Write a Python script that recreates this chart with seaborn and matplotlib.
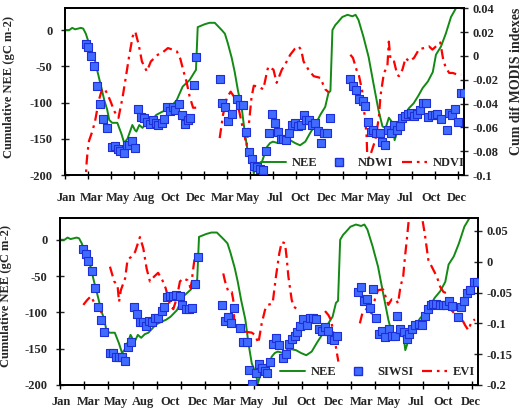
import numpy as np
import pandas as pd
import matplotlib
matplotlib.use("Agg")
import matplotlib.pyplot as plt
from matplotlib.lines import Line2D
from matplotlib.ticker import FixedLocator, FuncFormatter
import seaborn as sns

# ---------------- data (x = 8-day composite index over three years) ----------------
month_labels = ["Jan", "Mar", "May", "Aug", "Oct", "Dec", "Mar", "May", "Jul",
                "Oct", "Dec", "Mar", "May", "Jul", "Oct", "Dec"]

nee_x = [0, 1.5, 2.5, 3.5, 4.5, 5.5, 6.3, 7.2, 8.1, 9.0, 10.1, 11.1, 12.5, 13.6, 14.6,
         15.3, 16.3, 18.1, 19.5, 20.5, 21.6, 22.5, 23.3, 24.2, 24.7, 25.7, 26.8, 28.0,
         29.2, 31.6, 33.5, 35.1, 36.5, 38.6, 40.7, 43.1, 44.8, 45.3, 45.9, 48.3, 50.0,
         51.8, 54.2, 55.3, 56.3, 57.7, 58.7, 59.8, 61.2, 62.2, 63.3, 64.6, 65.3, 66.0,
         66.7, 68.1, 69.9, 70.9, 71.9, 73.7, 75.4, 77.9, 79.6, 81.3, 83.1, 84.8, 86.5,
         88.3, 90.0, 91.1, 91.8, 92.5, 93.5, 94.2, 95.9, 97.7, 99.4, 100.5, 101.5,
         103.2, 105.0, 106.7, 108.4, 109.8, 110.9, 112.0, 113.3, 114.0, 115.4, 117.1,
         118.9, 120.6, 122.3, 123.7, 125.5, 127.2, 128.3, 130.0, 131.7, 133.5, 135.2, 138.0]
nee_y = [0, 0, 3, 1, 2, 3, 2, -5, -16, -28, -37, -55, -78, -97, -110,
         -124, -128, -128, -143, -156, -150, -140, -131, -138, -140, -131, -135, -130,
         -128, -117, -113, -110, -106, -97, -78, -69, -58, -55, 4, 8, 10,
         10, 0, -5, -18, -39, -58, -83, -110, -142, -170, -184, -198, -188,
         -184, -182, -161, -156, -154, -156, -150, -152, -156, -159, -154, -142, -131,
         -117, -106, -87, -84, 0, 7, 10, 18, 21, 19, 21, 14,
         -9, -37, -74, -110, -133, -135, -121, -128, -152, -134, -120,
         -108, -101, -90, -80, -71, -58, -34, -23, -5, 18, 30, 55]

ndwi_x = [7.4, 8.1, 9.1, 10.2, 11.2, 12.2, 13.1, 14.4, 16.4, 17.4, 18.2, 19.1, 20.3,
          21.3, 22.3, 23.2, 24.3, 25.4, 26.3, 27.4, 28.3, 29.3, 30.3, 31.5, 32.3, 33.4,
          34.4, 35.2, 36.4, 37.3, 38.2, 39.3, 40.4, 41.5, 42.4, 43.4, 44.5, 45.4,
          53.5, 54.3, 55.5, 56.4, 57.6, 59.5, 60.5, 61.4, 62.5, 63.5, 64.7, 65.5, 66.4,
          67.5, 68.6, 69.4, 70.6, 71.7, 72.6, 73.6, 74.6, 75.5, 76.6, 77.5, 78.4, 79.6,
          80.5, 81.7, 82.6, 83.4, 84.5, 85.4, 86.5, 87.5, 88.5, 89.6, 90.6, 91.8,
          98.7, 99.6, 100.7, 101.8, 102.9, 103.8, 104.7, 105.7, 106.6, 107.7, 108.8,
          109.7, 110.8, 111.7, 112.6, 113.8, 114.7, 115.9, 116.7, 117.7, 118.6, 119.8,
          120.7, 121.9, 122.8, 123.7, 124.9, 125.7, 126.8, 127.9, 128.8, 130.0, 132.0,
          132.9, 133.9, 134.9, 135.9, 137.0, 138.0]
ndwi_y = [0.0102, 0.0074, 0.0, -0.0088, -0.0249, -0.0407, -0.0527, -0.0608, -0.0764,
          -0.0755, -0.0783, -0.0797, -0.0816, -0.0750, -0.0750, -0.0713, -0.0777, -0.0443,
          -0.0510, -0.0521, -0.0555, -0.0574, -0.0538, -0.0566, -0.0583, -0.0566, -0.0532,
          -0.0426, -0.0463, -0.0426, -0.0455, -0.0401, -0.0493, -0.0574, -0.0538, -0.0518,
          -0.0243, -0.0010,
          -0.0190, -0.0399, -0.0426, -0.0549, -0.0488, -0.0360, -0.0416, -0.0416, -0.0638,
          -0.0805, -0.0866, -0.0922, -0.0936, -0.0950, -0.0956, -0.0797, -0.0649, -0.0491,
          -0.0566, -0.0638, -0.0694, -0.0694, -0.0705, -0.0649, -0.0583, -0.0566, -0.0588,
          -0.0583, -0.0493, -0.0538, -0.0538, -0.0583, -0.0566, -0.0630, -0.0733, -0.0644,
          -0.0644, -0.0524,
          -0.0190, -0.0254, -0.0282, -0.0360, -0.0380, -0.0421, -0.0555, -0.0638, -0.0622,
          -0.0649, -0.0649, -0.0722, -0.0749, -0.0622, -0.0644, -0.0583, -0.0622, -0.0588,
          -0.0524, -0.0505, -0.0485, -0.0483, -0.0505, -0.0491, -0.0455, -0.0399, -0.0399,
          -0.0510, -0.0499, -0.0499, -0.0485, -0.0527, -0.0624, -0.0477, -0.0499, -0.0443,
          -0.0555, -0.0310, -0.0310]

ndvi_x = [7.0, 7.5, 7.8, 8.3, 9.5, 10.4, 11.8, 12.8, 13.5, 14.7, 15.9, 17.0, 18.5, 19.9,
          21.1, 22.2, 23.4, 24.3, 25.5, 26.6, 28.3, 29.7, 32.1, 33.8, 35.6, 37.3, 38.7,
          39.9, 41.0, 42.0, 43.1, 44.3, 45.4, np.nan,
          53.5, 54.7, 56.0, 57.3, 59.5, 61.0, 62.8, 63.5, 64.5, 65.3, 67.0, 68.6, 69.8,
          70.3, 72.1, 73.2, 75.0, 76.1, 77.9, 79.5, 80.8, 81.7, 82.5, 84.2, 86.0, 88.3,
          90.0, 91.2, np.nan,
          98.7, 99.6, 101.0, 101.6, 102.8, 103.4, 103.9, 104.3, 104.5, 105.2, 105.7, 107.4,
          108.6, 109.1, 110.3, 111.5, 112.0, 112.6, 113.8, 114.9, 115.5, 116.7, 117.8,
          119.0, 120.7, 122.5, 124.2, 125.9, 127.1, 128.3, 129.8, 130.8, 131.7, 132.9,
          134.1, 135.8, 137.0]
ndvi_y = [-0.11, -0.089, -0.081, -0.0714, -0.063, -0.0547, -0.0365, -0.028, -0.027,
          -0.032, -0.039, -0.0463, -0.052, -0.035, -0.017, 0.0, 0.0163, 0.0205, 0.0094,
          -0.0046, -0.013, -0.0046, 0.001, 0.003, 0.0066, 0.0052, 0.0038, -0.0025, -0.013,
          -0.0213, -0.034, -0.0435, -0.0435, np.nan,
          -0.069, -0.049, -0.035, -0.030, -0.038, -0.055, -0.075, -0.060, -0.035, -0.025,
          -0.026, -0.028, -0.014, -0.009, -0.0115, -0.0226, -0.0115, -0.0073, 0.001, 0.006,
          0.008, 0.005, -0.0046, -0.0115, -0.017, -0.0184, -0.028, -0.0305, np.nan,
          0.001, -0.0017, -0.013, -0.0157, -0.0296, -0.045, -0.056, -0.067, -0.081, -0.086,
          -0.0826, -0.070, -0.0505, -0.0338, -0.0143, -0.0088, 0.012, -0.0032, -0.0046,
          -0.0157, -0.017, -0.0115, -0.0017, -0.0046, -0.0017, 0.0058, 0.0066, 0.008,
          0.0053, 0.008, 0.0113, -0.003, -0.010, -0.0143, -0.0143, -0.0157, -0.0157]

siwsi_x = [7.5, 8.5, 9.3, 10.5, 11.4, 12.4, 13.4, 14.4, 16.5, 17.6, 18.5, 19.6, 20.6,
           21.6, 22.5, 23.4, 24.4, 25.3, 26.4, 27.5, 28.4, 29.5, 30.5, 31.4, 32.4, 33.6,
           34.4, 35.4, 36.4, 37.4, 38.4, 39.5, 40.4, 41.5, 42.5, 43.5, 44.5, 45.5,
           53.4, 54.5, 55.5, 56.4, 57.4, 59.5, 60.4, 61.6, 62.5, 63.5, 64.6, 65.6, 66.6,
           67.6, 68.5, 69.3, 70.4, 71.3, 72.4, 73.5, 74.5, 75.6, 76.5, 77.5, 78.3, 79.4,
           80.3, 81.4, 82.5, 83.4, 84.4, 85.5, 86.5, 87.5, 88.4, 89.5, 90.3, 91.3,
           98.5, 99.4, 100.4, 101.4, 102.3, 103.3, 104.3, 105.3, 106.4, 107.4, 108.5,
           109.5, 110.5, 111.4, 112.4, 113.5, 114.5, 115.3, 116.3, 117.3, 118.4, 119.4,
           120.4, 121.4, 122.4, 123.3, 124.3, 125.3, 126.3, 127.3, 128.3, 129.4, 131.5,
           132.5, 133.5, 134.5, 135.5, 136.6, 137.7]
siwsi_y = [0.0206, 0.012, 0.001, -0.015, -0.042, -0.073, -0.0946, -0.114, -0.1486,
           -0.1486, -0.155, -0.154, -0.154, -0.1606, -0.139, -0.131, -0.074, -0.085,
           -0.098, -0.098, -0.104, -0.0957, -0.098, -0.0908, -0.092, -0.0795, -0.073,
           -0.0578, -0.0556, -0.0551, -0.054, -0.0556, -0.0702, -0.0773, -0.0773, -0.0746,
           -0.036, 0.008,
           -0.0702, -0.0957, -0.090, -0.099, -0.0756, -0.108, -0.1308, -0.1308, -0.1757,
           -0.1984, -0.181, -0.166, -0.172, -0.177, -0.180, -0.162, -0.1335, -0.124,
           -0.135, -0.1557, -0.150, -0.134, -0.1254, -0.1205, -0.1146, -0.1043, -0.0935,
           -0.1027, -0.0908, -0.0908, -0.093, -0.109, -0.112, -0.1065, -0.112, -0.1254,
           -0.127, -0.1205,
           -0.0486, -0.0416, -0.0632, -0.061, -0.0756, -0.0448, -0.0908, -0.117, -0.112,
           -0.1216, -0.1097, -0.1205, -0.1205, -0.0876, -0.109, -0.1146, -0.126, -0.117,
           -0.1087, -0.1027, -0.101, -0.1027, -0.088, -0.0773, -0.0702, -0.0686, -0.0686,
           -0.0702, -0.0702, -0.0702, -0.0632, -0.0719, -0.0892, -0.073, -0.0638, -0.0513,
           -0.046, -0.0324, -0.0324]

evi_x = [7.7, 9.0, 10.2, 11.5, 12.9, 13.8, np.nan,
         16.5, 17.9, 19.0, 19.5, 20.1, 21.5, 22.3, 23.5, 24.8, 26.4, 27.5, 28.6, 29.7,
         31.1, 32.4, 33.8, 34.9, 36.3, 37.4, 38.5, 39.6, 40.7, 42.1, 43.2, 44.0, 44.5, np.nan,
         53.9, 54.5, 55.6, 56.7, 57.2, 57.6, np.nan,
         61.0, 63.3, 64.4, 65.5, 66.6, 67.7, 68.7, 70.2, 71.3, 72.4, 73.2, 74.3, 74.8,
         75.4, 76.5, 77.2, 78.6, np.nan,
         87.5, 88.6, 89.5, 90.8, 91.9, np.nan,
         99.0, 99.8, 101.5, 102.9, 104.0, 105.0, 106.7, 108.4, 109.5, 111.1, 111.6, 112.4,
         113.3, 113.9, 114.6, 115.3, 117.0, 119.4, 120.5, 121.6, 123.3, 124.4, 125.5,
         126.6, 127.7, 128.6, 130.5, 132.3, 133.7, 134.8, 135.9, 137.0]
evi_y = [-0.070, -0.062, -0.056, -0.068, -0.076, -0.083, np.nan,
         -0.008, -0.032, -0.038, -0.065, -0.046, -0.027, 0.003, 0.008, 0.016, 0.040,
         0.022, -0.011, -0.032, -0.024, -0.018, -0.030, -0.043, -0.070, -0.077, -0.060,
         -0.032, -0.027, -0.030, -0.043, -0.011, 0.008, np.nan,
         -0.019, -0.032, -0.049, -0.049, -0.062, -0.103, np.nan,
         -0.1135, -0.115, -0.119, -0.132, -0.100, -0.078, -0.070, -0.0675, -0.024, 0.0136,
         0.032, 0.030, 0.008, -0.024, -0.062, -0.073, -0.078, np.nan,
         -0.080, -0.0865, -0.095, -0.130, -0.162, np.nan,
         -0.100, -0.084, -0.075, -0.084, -0.060, -0.046, -0.045, -0.070, -0.061, -0.063,
         -0.0675, -0.0405, -0.024, 0.008, 0.0405, 0.076, 0.110, 0.076, 0.043, 0.003,
         -0.0135, -0.024, -0.0405, -0.049, -0.0513, -0.0756, -0.085, -0.089, -0.1027,
         -0.111, -0.097, -0.0935]

# ---------------- styling ----------------
sns.set_theme(style="white")
plt.rcParams["font.family"] = ["Liberation Serif", "DejaVu Serif"]
plt.rcParams["font.weight"] = "bold"
plt.rcParams["axes.unicode_minus"] = False

GREEN = "#138A13"
RED = "#FF0000"
BFACE = "#3F6BFF"
BEDGE = "#1E2FD8"
FS = 9
RED_LS = (0, (4.5, 2.2, 1.2, 2.2))


def segments(xs, ys):
    seg, out = 0, []
    for x, y in zip(xs, ys):
        if np.isnan(x):
            seg += 1
            continue
        out.append((x, y, seg))
    return pd.DataFrame(out, columns=["x", "y", "seg"])


def style_axes(ax, ax2, rlim, rticks, label_pos, xpad):
    ax.set_xlim(0, 138)
    ax.set_ylim(-200, 30)
    ax2.set_ylim(*rlim)
    ax.set_yticks([0, -50, -100, -150, -200])
    ax2.set_yticks(rticks)
    ax2.yaxis.set_major_formatter(FuncFormatter(lambda v, p: f"{v:g}"))
    ax.yaxis.set_major_formatter(FuncFormatter(lambda v, p: f"{v:g}"))
    ax.set_xticks(label_pos)
    ax.set_xticklabels(month_labels)
    ax.xaxis.set_minor_locator(FixedLocator(np.arange(0, 137, 8)))
    ax.tick_params(axis="x", which="major", length=0, pad=xpad, labelsize=FS)
    ax.tick_params(axis="x", which="minor", direction="inout", length=6, width=1.0,
                   color="black", bottom=True)
    ax.tick_params(axis="y", direction="inout", length=6, width=1.0, labelsize=FS,
                   pad=6, left=True)
    ax2.tick_params(axis="y", direction="inout", length=6, width=1.0, labelsize=FS,
                    pad=3, right=True)
    for a in (ax, ax2):
        for s in a.spines.values():
            s.set_color("black")
            s.set_linewidth(1.3)
    ax.set_xlabel("")
    ax2.set_xlabel("")
    ax2.set_ylabel("")
    ax.set_ylabel("Cumulative NEE (gC m-2)", fontsize=FS, fontweight="bold")


fig = plt.figure(figsize=(5.22, 4.11), dpi=100)
label_pos = np.linspace(0.3, 135.5, 16)

nee_df = pd.DataFrame({"x": nee_x, "y": nee_y})

panels = [
    dict(rect=[0.1245, 0.5742, 0.7644, 0.4056], sq=(ndwi_x, ndwi_y), ln=(ndvi_x, ndvi_y),
         names=("NEE", "NDWI", "NDVI"), rlim=(-0.1, 0.04),
         rticks=[-0.1, -0.08, -0.06, -0.04, -0.02, 0, 0.02, 0.04],
         leg=(0.746, 0.072), ylab_x=-0.125, xpad=12),
    dict(rect=[0.1149, 0.0633, 0.8008, 0.4063], sq=(siwsi_x, siwsi_y), ln=(evi_x, evi_y),
         names=("NEE", "SIWSI", "EVI"), rlim=(-0.2, 0.071),
         rticks=[-0.2, -0.15, -0.1, -0.05, 0, 0.05],
         leg=(0.76, 0.078), ylab_x=-0.115, xpad=8),
]

for p in panels:
    ax = fig.add_axes(p["rect"])
    ax2 = ax.twinx()
    sns.lineplot(data=nee_df, x="x", y="y", ax=ax, color=GREEN, lw=1.4,
                 sort=False, estimator=None)
    ldf = segments(*p["ln"])
    sns.lineplot(data=ldf, x="x", y="y", units="seg", estimator=None, sort=False,
                 ax=ax2, color=RED, lw=1.6, linestyle=RED_LS, legend=False)
    sq = pd.DataFrame({"x": p["sq"][0], "y": p["sq"][1]})
    sns.scatterplot(data=sq, x="x", y="y", ax=ax2, marker="s", s=28, color=BFACE,
                    edgecolor=BEDGE, linewidth=0.8, zorder=5, legend=False)
    style_axes(ax, ax2, p["rlim"], p["rticks"], label_pos, p["xpad"])
    ax.yaxis.set_label_coords(p["ylab_x"], 0.53)
    handles = [Line2D([], [], color=GREEN, lw=1.4),
               Line2D([], [], marker="s", ls="none", mfc=BFACE, mec=BEDGE, ms=5.5),
               Line2D([], [], color=RED, lw=1.6, linestyle=RED_LS)]
    ax2.legend(handles, list(p["names"]), loc="center", bbox_to_anchor=p["leg"],
               ncol=3, frameon=False, fontsize=FS, handlelength=2.0,
               handletextpad=0.5, columnspacing=0.7, borderaxespad=0, borderpad=0)

fig.text(516 / 522, 1 - 155 / 411, "Cum dif MODIS indexes", rotation=90, ha="center",
         va="bottom", fontsize=10, fontweight="bold")

fig.savefig("out.png", dpi=100)
